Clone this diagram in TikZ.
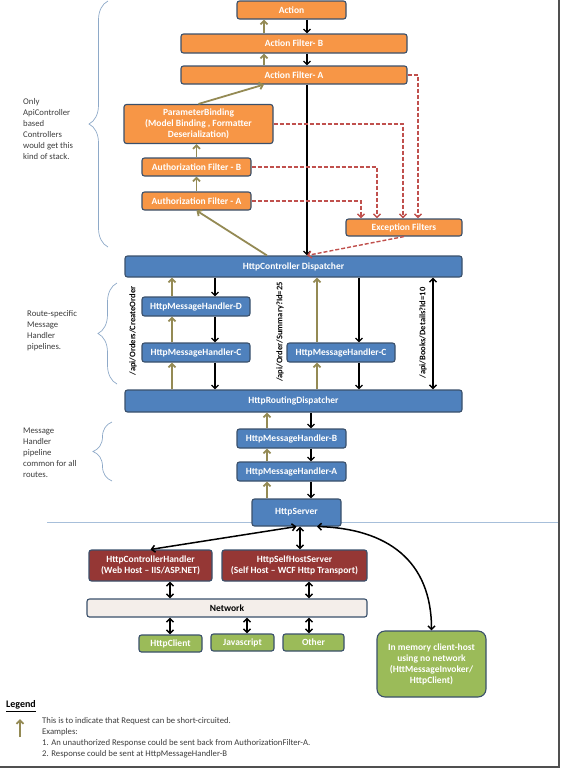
\documentclass[tikz,border=0pt]{standalone}
\usepackage{fontspec}
\setmainfont{Carlito}
\usetikzlibrary{arrows.meta,calc,decorations.pathreplacing}
\definecolor{boxline}{HTML}{3A506B}
\definecolor{filterorange}{HTML}{F79646}
\definecolor{handlerblue}{HTML}{4F81BD}
\definecolor{hostred}{HTML}{953735}
\definecolor{clientgreen}{HTML}{9BBB59}
\definecolor{netfill}{HTML}{F4EEEA}
\definecolor{shortcut}{HTML}{948A54}
\definecolor{excred}{HTML}{C0504D}
\definecolor{bracecol}{HTML}{8EA9C8}
\definecolor{sepblue}{HTML}{A7BFDA}
\definecolor{notegray}{HTML}{3C3C3C}
\definecolor{framegray}{HTML}{505050}

\begin{document}
\begin{tikzpicture}
  [x=1pt,y=-1pt,
  >={Straight Barb[length=3.5pt,width=7pt]},
  box/.style={rectangle,rounded corners=2.5pt,draw=boxline,line width=1.1pt,inner sep=0pt,align=center,text=white,font=\bfseries\fontsize{9.5}{11}\selectfont},
  orangebox/.style={box,fill=filterorange},
  bluebox/.style={box,fill=handlerblue},
  redbox/.style={box,fill=hostred},
  greenbox/.style={box,fill=clientgreen},
  netbox/.style={box,fill=netfill,text=black},
  req/.style={->,black,line width=1.3pt},
  back/.style={->,shortcut,line width=1.8pt},
  both/.style={<->,black,line width=1.5pt},
  exc/.style={->,excred,line width=1.4pt,dash pattern=on 4pt off 2pt},
  brace/.style={decorate,decoration={brace,amplitude=19pt},bracecol,line width=0.7pt},
  note/.style={align=left,inner sep=0pt,text=notegray,font=\fontsize{8.7}{11}\selectfont},
  route/.style={rotate=90,inner sep=0pt,font=\bfseries\fontsize{8.5}{10}\selectfont}]
  \useasboundingbox (0,0) rectangle (562,772);

  \draw[framegray,line width=2.5pt] (559,0) -- (559,767) -- (0,767);
  \draw[sepblue,line width=0.8pt] (47,522) -- (558,522);

  \coordinate (tanA) at (264,0);
  \coordinate (blkA) at (307,0);
  \coordinate (tanL) at (172,0);
  \coordinate (blkL) at (215,0);
  \coordinate (tanR) at (317,0);
  \coordinate (blkR) at (359,0);
  \coordinate (direct) at (433,0);
  \coordinate (tanB) at (267,0);
  \coordinate (blkB) at (311,0);
  \coordinate (exc1) at (361,0);
  \coordinate (exc2) at (377,0);
  \coordinate (exc3) at (403,0);
  \coordinate (exc4) at (418,0);
  \coordinate (selfcol) at (300,0);
  \coordinate (memcol) at (317,0);
  \coordinate (netL) at (170,0);
  \coordinate (netM) at (247,0);
  \coordinate (netR) at (309,0);

  \node[orangebox,minimum width=109pt,minimum height=18pt] (action) at (291.5,10) {Action};
  \node[orangebox,minimum width=226pt,minimum height=19pt] (filterB) at (294,43.5) {Action Filter- B};
  \node[orangebox,minimum width=226pt,minimum height=18pt] (filterA) at (294,75) {Action Filter- A};
  \node[orangebox,minimum width=149pt,minimum height=39pt] (binding) at (198.5,124) {ParameterBinding\\(Model Binding , Formatter\\Deserialization)};
  \node[orangebox,minimum width=109pt,minimum height=18pt] (authB) at (196.5,167) {Authorization Filter - B};
  \node[orangebox,minimum width=109pt,minimum height=18pt] (authA) at (196.5,201) {Authorization Filter - A};
  \node[orangebox,minimum width=116pt,minimum height=17pt] (exc) at (404,227.5) {Exception Filters};

  \node[bluebox,minimum width=337pt,minimum height=21pt] (ctrl) at (293.5,266.5) {HttpController Dispatcher};
  \node[bluebox,minimum width=108pt,minimum height=19pt] (hmhD) at (196,306.5) {HttpMessageHandler-D};
  \node[bluebox,minimum width=108pt,minimum height=19pt] (hmhC) at (196,352.5) {HttpMessageHandler-C};
  \node[bluebox,minimum width=108pt,minimum height=19pt] (hmhCR) at (341,352.5) {HttpMessageHandler-C};
  \node[bluebox,minimum width=337pt,minimum height=22pt] (routing) at (293.5,401) {HttpRoutingDispatcher};
  \node[bluebox,minimum width=109pt,minimum height=19pt] (hmhB) at (291.5,438.5) {HttpMessageHandler-B};
  \node[bluebox,minimum width=109pt,minimum height=19pt] (hmhA) at (291.5,471.5) {HttpMessageHandler-A};
  \node[bluebox,minimum width=89pt,minimum height=27pt] (server) at (296.5,512.5) {HttpServer};

  \node[redbox,minimum width=123pt,minimum height=31pt] (webhost) at (150.5,565.5) {HttpControllerHandler\\(Web Host -- IIS/ASP.NET)};
  \node[redbox,minimum width=145pt,minimum height=31pt] (selfhost) at (294.5,565.5) {HttpSelfHostServer\\(Self Host -- WCF Http Transport)};
  \node[netbox,minimum width=280pt,minimum height=18pt] (network) at (227,608) {Network};
  \node[greenbox,minimum width=63pt,minimum height=17pt] (httpclient) at (170.5,643.5) {HttpClient};
  \node[greenbox,minimum width=63pt,minimum height=17pt] (javascript) at (242.5,642.5) {Javascript};
  \node[greenbox,minimum width=61pt,minimum height=17pt] (other) at (313.5,642.5) {Other};
  \node[greenbox,rounded corners=8pt,minimum width=109pt,minimum height=66pt] (memory) at (431.5,664) {In memory client-host\\using no network\\(HttMessageInvoker/\\HttpClient)};

  \node[route] (route1) at (133,331) {/api/Orders/CreateOrder};
  \node[route] (route2) at (280,332) {/api/Order/Summary?Id=25};
  \node[route] (route3) at (423,333) {/api/Books/Details?Id=10};

  \draw[req] (action.south -| blkA) -- (filterB.north -| blkA);
  \draw[back] (filterB.north -| tanA) -- (action.south -| tanA);
  \draw[req] (filterB.south -| blkA) -- (filterA.north -| blkA);
  \draw[back] (filterA.north -| tanA) -- (filterB.south -| tanA);
  \draw[back] (binding.north) -- (filterA.south -| tanA);
  \draw[back] (authB.north) -- (authB.north |- binding.south);
  \draw[back] (authA.north) -- (authB.south);
  \draw[back] (ctrl.north -| tanB) -- (authA.south);
  \draw[req] (filterA.south -| blkA) -- (ctrl.north -| blkA);

  \draw[exc] (filterA.east) -| (exc.north -| exc4);
  \draw[exc] (binding.east) -| (exc.north -| exc3);
  \draw[exc] (authB.east) -| (exc.north -| exc2);
  \draw[exc] (authA.east) -| (exc.north -| exc1);
  \draw[exc] (exc.south) -- (ctrl.north -| blkA);

  \draw[back] (hmhD.north -| tanL) -- (ctrl.south -| tanL);
  \draw[req] (ctrl.south -| blkL) -- (hmhD.north -| blkL);
  \draw[back] (hmhC.north -| tanL) -- (hmhD.south -| tanL);
  \draw[req] (hmhD.south -| blkL) -- (hmhC.north -| blkL);
  \draw[back] (routing.north -| tanL) -- (hmhC.south -| tanL);
  \draw[req] (hmhC.south -| blkL) -- (routing.north -| blkL);

  \draw[back] (hmhCR.north -| tanR) -- (ctrl.south -| tanR);
  \draw[req] (ctrl.south -| blkR) -- (hmhCR.north -| blkR);
  \draw[back] (routing.north -| tanR) -- (hmhCR.south -| tanR);
  \draw[req] (hmhCR.south -| blkR) -- (routing.north -| blkR);
  \draw[both] (ctrl.south -| direct) -- (routing.north -| direct);

  \draw[req] (routing.south -| blkB) -- (hmhB.north -| blkB);
  \draw[back] (hmhB.north -| tanB) -- (routing.south -| tanB);
  \draw[req] (hmhB.south -| blkB) -- (hmhA.north -| blkB);
  \draw[back] (hmhA.north -| tanB) -- (hmhB.south -| tanB);
  \draw[req] (hmhA.south -| blkB) -- (server.north -| blkB);
  \draw[back] (server.north -| tanB) -- (hmhA.south -| tanB);

  \draw[both] (server.south) -- (webhost.north);
  \draw[both] (server.south -| selfcol) -- (selfhost.north -| selfcol);
  \draw[both] (server.south -| memcol) .. controls +(70,2) and +(0,-70) .. (memory.north);
  \draw[both] (webhost.south -| netL) -- (network.north -| netL);
  \draw[both] (selfhost.south -| netR) -- (network.north -| netR);
  \draw[both] (network.south -| netL) -- (httpclient.north -| netL);
  \draw[both] (network.south -| netM) -- (javascript.north -| netM);
  \draw[both] (network.south -| netR) -- (other.north -| netR);

  \draw[brace] (108,247) -- (108,1);
  \draw[brace] (117,384) -- (117,283);
  \draw[brace] (112,481) -- (112,422);
  \node[note,anchor=north west] (stacknote) at (23,98) {Only\\ApiController\\based\\Controllers\\would get this\\kind of stack.};
  \node[note,anchor=north west] (routenote) at (27,310) {Route-specific\\Message\\Handler\\pipelines.};
  \node[note,anchor=north west] (commonnote) at (23,428) {Message\\Handler\\pipeline\\common for all\\routes.};

  \node[anchor=west,inner sep=0pt,font=\bfseries\fontsize{10}{12}\selectfont] (legend) at (6,706) {\underline{Legend}};
  \coordinate (keybase) at (20,737);
  \coordinate (keytip) at (20,719);
  \draw[back] (keybase) -- (keytip);
  \node[note,anchor=north west] (legendtext) at (42,717) {This is to indicate that Request can be short-circuited.\\Examples:\\1. An unauthorized Response could be sent back from AuthorizationFilter-A.\\2. Response could be sent at HttpMessageHandler-B};
\end{tikzpicture}
\end{document}
